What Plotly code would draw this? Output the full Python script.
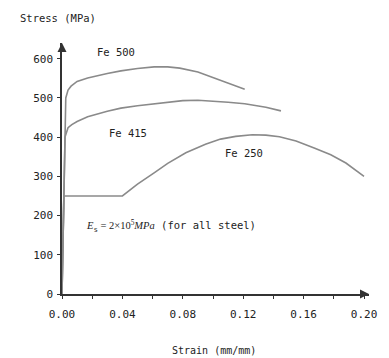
import plotly.graph_objects as go

fe500_strain = [0, 0.0025, 0.004, 0.006, 0.01, 0.017, 0.03, 0.039, 0.05, 0.061, 0.07, 0.078, 0.09, 0.099, 0.11, 0.121]
fe500_stress = [0, 500, 520, 530, 542, 551, 562, 569, 575, 579, 579, 576, 566, 553, 538, 522]

fe415_strain = [0, 0.002, 0.004, 0.0065, 0.01, 0.017, 0.03, 0.039, 0.05, 0.061, 0.07, 0.08, 0.09, 0.099, 0.11, 0.121, 0.135, 0.145]
fe415_stress = [0, 400, 424, 432, 440, 452, 466, 474, 480, 485, 489, 493, 494, 492, 489, 485, 476, 467]

fe250_strain = [0, 0.00125, 0.04, 0.05, 0.061, 0.07, 0.082, 0.095, 0.105, 0.115, 0.126, 0.135, 0.144, 0.155, 0.167, 0.178, 0.188, 0.2]
fe250_stress = [0, 250, 250, 280, 309, 333, 360, 382, 395, 402, 406, 405, 401, 390, 372, 355, 334, 300]

x_ticks = [0.00, 0.04, 0.08, 0.12, 0.16, 0.20]
x_ticklabels = ["0.00", "0.04", "0.08", "0.12", "0.16", "0.20"]
y_ticks = [0, 100, 200, 300, 400, 500, 600]
x_max = 0.2033
y_max = 640

MONO = "DejaVu Sans Mono"
LINE = "#8a8a8a"
AX = "#333333"

fig = go.Figure()
for xs, ys in [(fe500_strain, fe500_stress), (fe415_strain, fe415_stress), (fe250_strain, fe250_stress)]:
    fig.add_trace(go.Scatter(x=xs, y=ys, mode="lines", line=dict(color=LINE, width=1.6),
                             showlegend=False, hoverinfo="skip"))

# axis arrow heads
fig.add_trace(go.Scatter(x=[0], y=[y_max], mode="markers", cliponaxis=False,
                         marker=dict(symbol="arrow-up", size=9, color=AX),
                         showlegend=False, hoverinfo="skip"))
fig.add_trace(go.Scatter(x=[x_max], y=[0], mode="markers", cliponaxis=False,
                         marker=dict(symbol="arrow-right", size=9, color=AX),
                         showlegend=False, hoverinfo="skip"))

fig.update_layout(
    width=389, height=358,
    margin=dict(l=62, r=16, t=43, b=64),
    paper_bgcolor="white", plot_bgcolor="white",
    font=dict(family=MONO, size=10, color="#222"),
    xaxis=dict(range=[0, x_max], tickvals=x_ticks, ticktext=x_ticklabels,
               showgrid=False, zeroline=False, showline=True, linecolor=AX, linewidth=1.5,
               ticks="outside", ticklen=3, tickcolor=AX, tickwidth=1,
               minor=dict(dtick=0.02, tick0=0, ticks="outside", ticklen=3, tickcolor=AX, showgrid=False),
               tickfont=dict(family=MONO, size=11, color="#222"), ticklabelstandoff=6),
    yaxis=dict(range=[0, y_max], tickvals=y_ticks,
               showgrid=False, zeroline=False, showline=True, linecolor=AX, linewidth=1.5,
               ticks="outside", ticklen=3, tickcolor=AX, tickwidth=1,
               tickfont=dict(family=MONO, size=11, color="#222"), ticklabelstandoff=2),
)

def label(text, x, y, size=10.5, xanchor="center"):
    fig.add_annotation(text=text, x=x, y=y, xref="paper", yref="paper", showarrow=False,
                       xanchor=xanchor, yanchor="middle", font=dict(family=MONO, size=size, color="#222"))

def px(xp, yp):
    return (xp - 62) / 311.0, (294 - yp) / 251.0

x0, y0 = px(17, 18); label("Stress (MPa)", x0, y0, xanchor="left")
x0, y0 = px(117, 52); label("Fe 500", x0, y0)
x0, y0 = px(129, 133); label("Fe 415", x0, y0)
x0, y0 = px(246, 153); label("Fe 250", x0, y0)
x0, y0 = px(216, 350); label("Strain (mm/mm)", x0, y0, size=10)
x0, y0 = px(84, 226)
label('<span style="font-family:Liberation Serif;font-style:italic">E</span><sub>s</sub>'
      '<span style="font-family:Liberation Serif"> = 2×10<sup>5</sup></span>'
      '<span style="font-family:Liberation Serif;font-style:italic">MPa</span> (for all steel)',
      x0, y0, xanchor="left")

fig.write_html("out.html")
